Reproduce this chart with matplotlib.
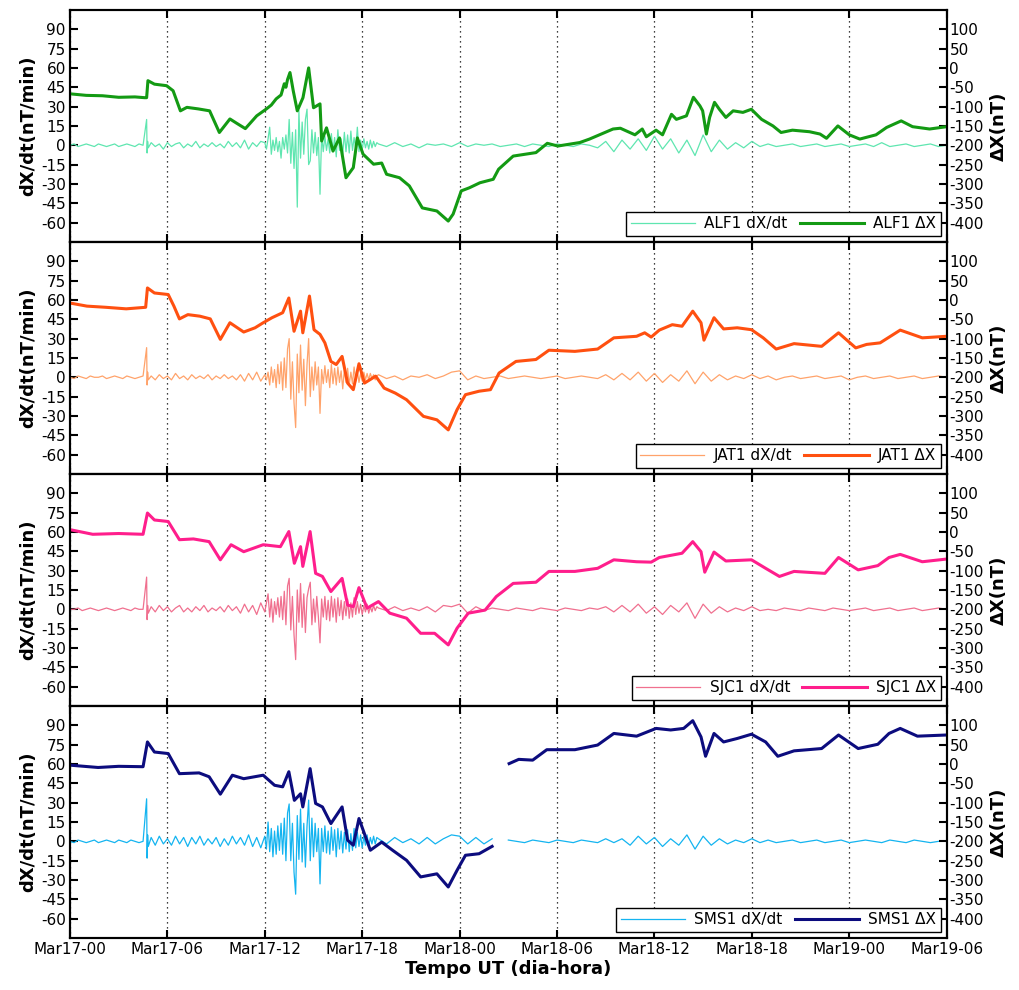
import numpy as np
import matplotlib
matplotlib.use('Agg')
import matplotlib.pyplot as plt

plt.close('all')
plt.rcParams['axes.unicode_minus'] = False

# x axis: hours since Mar17-00 UT
xtick_hours = [0, 6, 12, 18, 24, 30, 36, 42, 48, 54]
xtick_labels = ['Mar17-00', 'Mar17-06', 'Mar17-12', 'Mar17-18', 'Mar18-00',
                'Mar18-06', 'Mar18-12', 'Mar18-18', 'Mar19-00', 'Mar19-06']

stations = ['ALF1', 'JAT1', 'SJC1', 'SMS1']
rate_colors = ['#5fe6b0', '#ffa36b', '#f0708f', '#14b4f0']
dx_colors = ['#139a13', '#ff5010', '#ff1e8c', '#0c0c7e']

# time grid of the dX/dt samples (h)
t_rate = np.concatenate([np.arange(0, 4.70, 0.25),
                         [4.72, 4.75, 4.78, 4.82],
                         np.arange(5.0, 11.9, 0.25),
                         np.arange(12.0, 18.95, 0.1),
                         np.arange(19.0, 54.1, 0.5)])

# dX/dt (nT/min)
rate_alf1 = [0, 1, -1, 0, 1, 0, -1, 1, 0, -1, 0, 1, -1, 0, 1, 0, -1, 1, 0,
             20, -6, 3, -2,
             2, -1, 1, -3, 2, -1, 1, 2, -2, 1, -1, 3, -2, 1, -1, 2, -1, 1, -2, 3,
             -1, 2, -2, 4, -3, 2, -1, 3,
             2, -3, 5, 14, -7, 4, -4, 6, -5, 3,
             -10, 6, -3, 8, -6, 20, -14, 10, -18, 12,
             -48, 27, -10, 18, -7, 20, 28, -15, -12, 12,
             -6, 10, -8, 6, -38, 8, -5, 7, -4, 5,
             -6, 9, -5, 6, -9, 12, -4, 5, -7, 10,
             -5, 8, -6, 11, -4, 6, -3, 14, -5, 4,
             -3, 5, -2, 3, -3, 4, -2, 3, -1, 2,
             1, -1, 2, -1, 1, -2, 1, 0, 1, -1,
             2, -1, 1, 0, 1, -1, 0, 1, -1, 1,
             0, -1, 1, 0, -1, 1, 0, -2, 3, -5,
             4, -3, 5, -4, 7, -3, 5, -6, 4, -8,
             8, -5, 4, -3, 2, -2, 3, -1, 1, -1,
             0, 1, -1, 0, 1, -1, 0, 1, -1, 0,
             1, -1, 2, -1, 0, 1, -1, 0, 1, -1,
             0]
rate_jat1 = [0, -1, 1, 0, -1, 1, 0, 0, 1, -1, 0, 1, 0, -1, 1, 0, -1, 0, 1,
             23, -6, 4, -2,
             1, -2, 2, -1, 1, -2, 3, -1, 1, -2, 2, -1, 1, -1, 2, -2, 1, -1, 2, -1,
             1, -2, 2, -3, 3, -2, 4, -3,
             2, -2, 4, -6, 8, -4, 6, -8, 10, -5,
             12, -10, 15, -8, 22, 30, -17, 12, -20, -39,
             18, -12, 25, -10, 14, -22, 10, 30, -15, 8,
             -10, 12, -6, 8, -28, 6, -5, 9, -4, 6,
             -8, 10, -5, 7, -6, 8, -4, 5, -9, 6,
             -4, 7, -6, 4, -5, 8, -3, 5, -4, 3,
             -3, 4, -2, 3, -2, 3, -1, 2, -2, 1,
             2, -1, 1, -2, 1, 0, 2, -1, 1, 4,
             5, -2, 1, -1, 0, 1, -1, 0, 1, 0,
             -1, 0, 1, -1, 0, 1, 0, -1, 2, -2,
             3, -2, 4, -3, 3, -4, 2, -3, 5, -5,
             4, -3, 2, -2, 1, -1, 2, -1, 1, -2,
             0, 1, -1, 0, 1, -1, 0, 1, -2, 0,
             1, -1, 0, 1, -1, 0, 1, -1, 0, 1,
             0]
rate_sjc1 = [0, 0, 1, -1, 0, 1, 0, -1, 0, 1, 0, -1, 0, 1, 0, -1, 1, 0, 0,
             25, -8, 3, -3,
             2, -2, 3, -1, 2, -2, 1, 3, -2, 1, -2, 2, -1, 3, -2, 1, -1, 2, -2, 3,
             -1, 2, -3, 4, -2, 3, -4, 5,
             -2, 5, 12, -6, 8, -10, 6, -4, 9, -6,
             10, -8, 14, -12, 18, 24, -16, 10, -20, -39,
             15, -10, 20, -14, 12, -18, 9, 16, 21, -12,
             8, -10, 10, -6, -26, 8, -6, 10, -8, 7,
             -9, 10, -6, 8, -10, 9, -5, 7, -8, 6,
             -5, 8, -7, 5, -6, 9, -4, 6, -3, 4,
             -4, 3, -2, 4, -3, 2, -2, 3, -1, 2,
             1, -1, 2, -1, 1, -1, 2, -2, 3, 2,
             4, -3, 2, -1, 1, 0, -1, 1, 0, -1,
             1, 0, -1, 1, 0, -1, 1, 0, 2, -2,
             3, -2, 4, -3, 2, -4, 3, -2, 5, -7,
             4, -3, 2, -2, 1, -1, 2, -1, 0, -1,
             1, 0, -1, 1, 0, -1, 1, 0, -1, 0,
             1, -1, 0, 1, -1, 0, 1, -1, 0, 1,
             0]
rate_sms1 = [0, -1, 1, 0, -1, 0, 1, -1, 0, 1, 0, -1, 1, 0, -1, 1, 0, -1, 0,
             33, -13, 5, -4,
             3, -3, 4, -2, 2, -3, 4, -2, 3, -4, 3, -2, 4, -3, 2, -2, 3, -4, 2, -3,
             4, -2, 3, -3, 5, -4, 3, -5,
             4, -6, 15, -8, 10, -12, 8, -10, 12, -7,
             14, -10, 18, -15, 22, 29, -15, 14, -24, -41,
             20, -14, 25, -16, 14, -20, 12, 32, -15, 18,
             -12, 14, -8, 10, -33, 10, -8, 12, -9, 8,
             -10, 11, -7, 9, -12, 10, -6, 8, -9, 7,
             -6, 9, -8, 6, -7, 10, -5, 7, -4, 5,
             -5, 4, -3, 5, -4, 3, -2, 4, -2, 3,
             2, -2, 3, -1, 2, -2, 3, -2, 2, 5,
             4, -2, 3, -2, 2, np.nan, 1, 0, -1, 1,
             0, -1, 1, 0, -1, 1, 0, -1, 2, -1,
             2, -3, 4, -2, 3, -4, 2, -3, 5, -6,
             4, -3, 2, -2, 1, -1, 2, -1, 1, -1,
             0, 1, -1, 0, 1, -1, 0, 1, -1, 0,
             1, 0, -1, 1, 0, -1, 1, 0, -1, 0,
             0]

# Delta X (nT): hours and values
t_dx_alf1 = [0, 1, 2, 3, 4, 4.6, 4.72, 4.8, 5.2, 5.95, 6.35, 6.8, 7.2, 7.9, 8.6, 9.2,
             9.85, 10.3, 10.8, 11.5, 12.1, 12.4, 12.7, 13.0, 13.2, 13.3, 13.4, 13.55,
             13.65, 13.75, 14.0, 14.35, 14.7, 15.0, 15.4, 15.5, 15.8, 16.2, 16.6,
             17.0, 17.45, 17.7, 18.05, 18.7, 19.2, 19.5, 20.3, 20.9, 21.7, 22.6,
             23.3, 23.6, 24.1, 24.6, 25.25, 26.07, 26.4, 27.3, 28.7, 29.4, 30.05,
             31.4, 32.0, 33.45, 33.9, 34.8, 35.25, 35.5, 36.1, 36.5, 37.05, 37.35,
             37.97, 38.4, 38.8, 38.97, 39.2, 39.4, 39.7, 40.0, 40.4, 40.85, 41.45,
             41.97, 42.6, 43.3, 43.8, 44.5, 45.55, 46.2, 46.6, 47.3, 48.0, 48.65,
             49.65, 50.3, 51.2, 51.9, 52.95, 54]
dx_alf1 = [-67, -71, -72, -76, -75, -77, -77, -33, -42, -46, -59, -111, -102, -106, -111,
           -167, -132, -144, -157, -124, -106, -96, -80, -70, -41, -50, -30, -12,
           -35, -59, -111, -77, 0, -103, -93, -189, -155, -215, -181,
           -284, -258, -181, -223, -249, -246, -275, -284, -305, -362, -370,
           -396, -378, -318, -310, -297, -288, -262, -228, -219, -195, -202,
           -193, -184, -158, -156, -173, -158, -178, -161, -173, -120, -133,
           -124, -76, -98, -111, -171, -128, -89, -107, -128, -111, -115,
           -107, -133, -150, -167, -161, -165, -171, -182, -150, -173, -184,
           -173, -154, -137, -152, -158, -152]

t_dx_jat1 = [0, 1.04, 2.2, 3.46, 4.66, 4.77, 5.2, 6.05, 6.4, 6.74, 7.26, 8.0, 8.64,
             9.26, 9.85, 10.7, 11.4, 11.9, 12.44, 13.1, 13.48, 13.8, 14.2, 14.34,
             14.75, 15.03, 15.4, 15.7, 16.07, 16.4, 16.76, 17.1, 17.45, 17.8, 18.14,
             18.83, 19.35, 20.04, 20.73, 21.77, 22.6, 23.3, 23.84, 24.36, 25.2, 25.9,
             26.43, 27.47, 28.7, 29.5, 31.1, 32.5, 33.5, 34.9, 35.4, 35.8, 36.3,
             37.1, 37.7, 38.36, 38.87, 39.05, 39.67, 40.26, 41.1, 41.98, 42.7, 43.5,
             44.6, 46.3, 47.34, 48.4, 49.07, 49.9, 51.14, 52.5, 54]
dx_jat1 = [-8, -16, -19, -23, -19, 31, 18, 14, -16, -49, -38, -42, -49,
           -102, -59, -83, -72, -59, -46, -33, 5, -81, -29, -85,
           10, -77, -89, -111, -159, -167, -146, -215, -232, -165, -215,
           -197, -228, -241, -258, -301, -310, -336, -284, -245, -236, -232,
           -189, -159, -154, -130, -133, -127, -98, -94, -85, -96, -78,
           -64, -68, -29, -59, -104, -46, -75, -72, -77, -98, -127,
           -113, -120, -85, -124, -115, -111, -78, -98, -94]

t_dx_sjc1 = [0, 1.4, 3.0, 4.5, 4.77, 5.2, 6.05, 6.74, 7.6, 8.57, 9.26, 9.92, 10.7,
             11.9, 12.96, 13.48, 13.82, 14.2, 14.34, 14.79, 15.13, 15.55, 16.07,
             16.76, 17.1, 17.45, 17.8, 18.3, 19.0, 19.7, 20.73, 21.6, 22.46, 23.3,
             23.84, 24.53, 25.57, 26.26, 27.3, 28.7, 29.5, 31.1, 32.5, 33.5, 34.9,
             35.8, 36.3, 37.7, 38.36, 38.87, 39.1, 39.67, 40.4, 41.98, 42.85, 43.7,
             44.6, 46.5, 47.34, 48.55, 49.76, 50.45, 51.14, 52.5, 54]
dx_sjc1 = [6, -6, -4, -6, 49, 31, 27, -20, -18, -25, -72, -33, -51,
           -33, -38, 1, -81, -38, -89, 1, -107, -115, -154,
           -120, -189, -193, -144, -197, -180, -210, -223, -262, -262, -292,
           -249, -210, -202, -167, -133, -130, -102, -102, -94, -72, -77,
           -78, -66, -55, -25, -51, -104, -52, -75, -72, -94, -115,
           -102, -107, -66, -98, -87, -66, -58, -77, -70]

t_dx_sms1 = [0, 1.73, 3.0, 4.5, 4.77, 5.2, 6.05, 6.74, 7.95, 8.57, 9.26, 10.0, 10.7,
             11.9, 12.6, 13.1, 13.48, 13.82, 14.2, 14.34, 14.79, 15.13, 15.55,
             16.07, 16.76, 17.1, 17.45, 17.8, 18.5, 19.2, 19.87, 20.73, 21.6, 22.6,
             23.3, 23.84, 24.36, 25.2, 26.0, 26.5, 27.05, 27.64, 28.5, 29.37, 31.1,
             32.5, 33.5, 34.9, 36.1, 37.0, 37.8, 38.36, 38.87, 39.15, 39.67, 40.26,
             41.1, 41.98, 42.85, 43.6, 44.6, 46.3, 47.34, 48.55, 49.76, 50.45,
             51.14, 52.2, 54]
dx_sms1 = [-3, -9, -6, -7, 57, 31, 27, -25, -23, -33, -78, -29, -38,
           -29, -55, -59, -20, -94, -77, -111, -12, -102, -111,
           -154, -111, -197, -210, -141, -223, -202, -223, -249, -292, -284,
           -318, -275, -236, -232, -213, np.nan, 1, 12, 10, 37, 37,
           49, 79, 72, 92, 88, 92, 112, 70, 20, 79, 57,
           66, 77, 57, 20, 34, 40, 75, 40, 51, 79,
           92, 72, 75]

rates = [rate_alf1, rate_jat1, rate_sjc1, rate_sms1]
t_dxs = [t_dx_alf1, t_dx_jat1, t_dx_sjc1, t_dx_sms1]
dxs = [dx_alf1, dx_jat1, dx_sjc1, dx_sms1]

fig, axes = plt.subplots(4, 1, sharex=True, figsize=(10.19, 9.9), dpi=100)
fig.subplots_adjust(left=0.0687, right=0.929, top=0.99, bottom=0.0525, hspace=0)

for i, ax in enumerate(axes):
    r = np.array(rates[i], dtype=float)
    n = min(len(r), len(t_rate))
    h1, = ax.plot(t_rate[:n], r[:n], color=rate_colors[i], lw=0.9)
    ax.set_xlim(0, 54)
    ax.set_ylim(-75, 105)
    ax.set_yticks(range(-60, 91, 15))
    ax.set_xticks(xtick_hours)
    ax.xaxis.grid(True, linestyle=(0, (1, 3)), color='k', lw=0.9)
    ax.tick_params(direction='in', length=6, width=1.5, top=True, labelsize=11, pad=3)
    ax.set_ylabel('dX/dt(nT/min)', fontsize=13, fontweight='bold', labelpad=3)
    for s in ax.spines.values():
        s.set_linewidth(1.5)

    ax2 = ax.twinx()
    n2 = min(len(t_dxs[i]), len(dxs[i]))
    h2, = ax2.plot(t_dxs[i][:n2], dxs[i][:n2], color=dx_colors[i], lw=2.2)
    ax2.set_ylim(-450, 150)
    ax2.set_yticks(range(-400, 101, 50))
    ax2.tick_params(direction='in', length=6, width=1.5, labelsize=11, pad=2)
    ax2.set_ylabel('ΔX(nT)', fontsize=13, fontweight='bold', labelpad=4)
    for s in ax2.spines.values():
        s.set_linewidth(1.5)

    leg = ax2.legend([h1, h2], [stations[i] + ' dX/dt', stations[i] + ' ΔX'],
                     loc='lower right', ncol=2, fontsize=11, fancybox=False,
                     edgecolor='k', framealpha=1, handlelength=4.2,
                     columnspacing=0.8, handletextpad=0.6, borderaxespad=0.4,
                     borderpad=0.3)
    leg.get_frame().set_linewidth(1.0)

axes[-1].set_xticklabels(xtick_labels)
axes[-1].set_xlabel('Tempo UT (dia-hora)', fontsize=13, fontweight='bold', labelpad=2)

fig.savefig('out.png', dpi=100)
